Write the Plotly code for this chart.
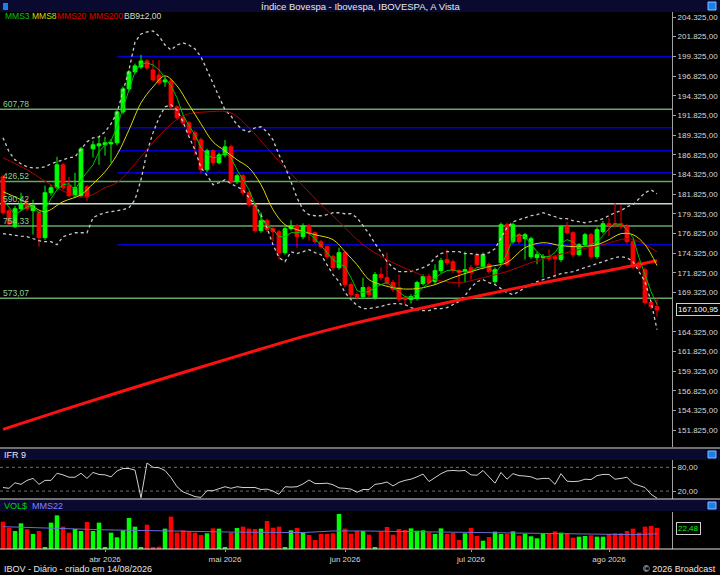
import plotly.graph_objects as go
import pandas as pd

# trading days shown (B3 holidays removed)
dates = pd.bdate_range("2026-03-09", "2026-08-13")
holidays = pd.to_datetime(["2026-04-03", "2026-04-21", "2026-05-01", "2026-06-04"])
dates = dates[~dates.isin(holidays)]
pos = list(range(len(dates)))

opens = [184020, 179700, 177680, 179960, 180600, 179710, 179450, 176280, 181990, 182630,
         185540, 182880, 181610, 181610, 182750, 187570, 187950, 188080, 188200, 188330,
         192270, 195190, 197350, 197980, 198740, 197600, 196960, 196080, 196200, 192900,
         191510, 190870, 189600, 188720, 184910, 187320, 185800, 186810, 187830, 183390,
         184150, 181990, 180470, 177170, 178440, 177420, 177040, 174380, 177420, 177800,
         176410, 177800, 176910, 175770, 175140, 173870, 172470, 174380, 170320, 169050,
         168790, 169940, 168670, 171590, 171200, 170570, 169940, 168670, 168410, 168540,
         170440, 171330, 170700, 172090, 173490, 173230, 172090, 171970, 172470, 174120,
         172600, 172850, 170700, 173110, 177930, 175770, 176660, 176150, 173870, 173740,
         173740, 173870, 173870, 173490, 177680, 176910, 174120, 175390, 176660, 173870,
         177040, 178060, 178060, 178060, 177680, 175770, 173110, 172220, 168030, 167520]
highs = [184300, 180000, 180300, 182000, 181200, 181100, 179700, 182900, 183000, 186560,
         185800, 184000, 184530, 187800, 183000, 188600, 189230, 189100, 188800, 192500,
         195500, 197600, 198400, 199500, 199000, 198870, 198870, 196700, 196500, 193100,
         191800, 191100, 189900, 189000, 187600, 187500, 187100, 188700, 188100, 184400,
         184400, 182200, 180700, 179500, 178700, 177700, 177300, 177700, 178500, 178000,
         178100, 178000, 177100, 176000, 175300, 174100, 175000, 174600, 170600, 169300,
         171200, 170200, 171900, 172500, 174380, 170900, 171600, 168900, 169100, 170800,
         171600, 171700, 172900, 173700, 174800, 173500, 172300, 174500, 172800, 174400,
         174400, 173100, 172500, 178200, 178200, 178200, 176900, 176900, 176400, 174500,
         174200, 174800, 174100, 177900, 178300, 177100, 175600, 176900, 176900, 177600,
         178400, 178800, 180700, 180400, 178000, 176000, 173400, 172500, 168300, 168660]
lows = [179200, 177800, 177500, 179700, 179700, 176660, 175140, 176000, 181600, 182400,
        182400, 181400, 181400, 181400, 180970, 186500, 185540, 186700, 185800, 188000,
        192000, 194900, 197100, 197700, 197600, 196100, 195700, 195450, 192600, 191200,
        190600, 189300, 186800, 184500, 184600, 185400, 185600, 186500, 183100, 183100,
        181700, 180200, 176900, 176900, 177000, 175800, 173500, 174100, 177200, 175000,
        176100, 175900, 175500, 174900, 173600, 172100, 172200, 170000, 168700, 168400,
        168500, 168700, 168400, 170900, 170300, 169400, 168100, 167800, 167900, 168300,
        170200, 170300, 170400, 171800, 172800, 171800, 170000, 170570, 171000, 172600,
        172300, 171700, 170400, 172800, 172600, 175500, 175500, 173500, 173600, 172900,
        171200, 173300, 171200, 173200, 176700, 173800, 173900, 175100, 173600, 173600,
        176800, 176500, 177600, 177400, 175500, 172300, 172100, 167800, 167200, 166260]
closes = [179450, 178050, 179960, 180600, 179960, 180340, 176280, 181990, 182630, 185540,
          182630, 181610, 182630, 187570, 181480, 188080, 188210, 188340, 188340, 192270,
          195190, 197350, 198110, 198740, 197850, 196330, 195950, 196330, 192900, 191510,
          190870, 189600, 188720, 184910, 187320, 185800, 186810, 187830, 183390, 184150,
          181990, 180470, 177170, 178440, 177300, 177040, 174380, 177420, 177800, 176410,
          177800, 176910, 175770, 175140, 173870, 172470, 174380, 170320, 169050, 168790,
          169940, 169050, 171590, 171200, 170570, 169680, 168410, 168410, 168790, 170570,
          171330, 170570, 172090, 173360, 173110, 172090, 171850, 172220, 171840, 172850,
          174120, 171970, 172220, 177930, 172850, 177930, 175770, 176660, 176150, 174120,
          173870, 173620, 173610, 177680, 176910, 174120, 175390, 176660, 173870, 177300,
          178060, 177800, 177800, 177680, 175770, 172600, 172470, 168030, 167520, 167100.95]

mms3 = [181100, 180090, 179200, 179710, 180210, 180210, 179450, 179830, 181230, 182370,
        183010, 183130, 182370, 183640, 184660, 185540, 187190, 188080, 188590, 190370,
        192780, 195060, 197350, 198360, 198490, 198230, 197600, 196590, 195570, 194050,
        191890, 190490, 189350, 187700, 186810, 186430, 186560, 187070, 186430, 184910,
        183640, 182370, 180470, 178820, 177800, 177300, 176410, 176410, 176910, 176910,
        177040, 176790, 176150, 175260, 174500, 173490, 172980, 172600, 171200, 169560,
        169300, 169430, 169940, 170320, 170570, 169940, 169430, 168790, 168670, 169170,
        169940, 170570, 171080, 171710, 172090, 172220, 171970, 171970, 171970, 172470,
        172600, 172470, 171710, 172730, 174250, 176280, 176660, 176410, 175390, 174500,
        173870, 173870, 174380, 175520, 176030, 175770, 175010, 175140, 175390, 175770,
        176530, 177420, 178060, 177930, 177300, 176280, 173740, 171590, 169430, 167780]

mms8_idx = [0, 3, 5, 7, 10, 13, 15, 17, 19, 21, 23, 25, 27, 29, 31, 33, 35, 37, 39, 41, 43, 45, 47,
            49, 52, 55, 57, 59, 61, 63, 66, 69, 72, 75, 78, 81, 84, 87, 90, 93, 96, 99, 101, 103,
            105, 107, 109]
mms8 = [182120, 181100, 180210, 179580, 180850, 181740, 183130, 184660, 186810, 189980,
        193410, 195440, 196840, 195570, 193160, 190750, 188460, 187320, 186180, 185160,
        183010, 179830, 177930, 177300, 176660, 176030, 174500, 172850, 170950, 170320,
        169810, 169810, 170320, 171200, 171970, 172600, 173110, 175010, 175640, 175270,
        175140, 175390, 176030, 176790, 176660, 175390, 172730]

mms20_idx = [0, 4, 8, 12, 14, 17, 19, 23, 26, 30, 34, 38, 41, 44, 47, 50, 53, 56, 60, 64, 68,
             72, 76, 80, 84, 88, 92, 96, 100, 104, 106, 109]
mms20 = [186430, 184910, 183010, 181610, 181480, 182630, 183260, 186560, 189220, 191760,
         192270, 192140, 190240, 187700, 185160, 182880, 180470, 178310, 175390, 173490,
         172090, 170950, 170570, 171200, 171970, 173110, 173990, 174760, 175390, 176150,
         175770, 174500]

mms200_idx = [0, 10, 20, 30, 40, 50, 57, 64, 72, 80, 90, 100, 109]
mms200 = [151915, 154400, 156800, 159150, 161450, 163700, 165100, 166350, 167700, 169000,
          170550, 171980, 173360]

bb_upper = [188970, 187190, 186180, 185670, 185290, 185160, 185160, 185290, 185670, 185920,
            186180, 186430, 186560, 187450, 188460, 188970, 189100, 189730, 190750, 192140,
            194800, 197600, 201150, 202170, 202420, 202550, 201910, 200770, 200140, 200770,
            201030, 200770, 200260, 199250, 197600, 195950, 194170, 192520, 191760, 190620,
            189980, 189730, 190240, 190370, 189730, 188720, 186810, 185290, 183390, 181360,
            179830, 179200, 179070, 179070, 179200, 179450, 179450, 179320, 179320, 178820,
            177800, 176790, 175520, 174500, 173230, 172470, 171970, 171970, 171970, 172220,
            172470, 172850, 173740, 174250, 174500, 174500, 174500, 174250, 174250, 174120,
            174120, 174380, 174880, 176280, 177550, 178310, 178570, 178820, 179070, 179200,
            179450, 179200, 178950, 178690, 178690, 178440, 178310, 178180, 178310, 178440,
            178690, 179070, 179450, 179710, 180210, 180470, 181230, 181990, 182370, 181860]
bb_lower = [176790, 176660, 176540, 176480, 176410, 176150, 175900, 175770, 175770, 175390,
            176410, 176660, 176910, 176910, 176910, 178820, 179200, 179450, 179580, 179710,
            179830, 180090, 181100, 183640, 187190, 189600, 191510, 192900, 193160, 192520,
            191000, 189100, 187450, 185160, 184200, 183010, 183260, 183640, 183130, 182750,
            182370, 181360, 180470, 179200, 177550, 175390, 173740, 173230, 174500, 174250,
            174500, 174760, 174380, 174120, 172850, 171590, 170700, 169300, 168410, 167650,
            167270, 167270, 167400, 167520, 167780, 167900, 167900, 167780, 167400, 167140,
            167020, 167020, 167270, 167270, 167400, 167780, 168160, 168920, 169940, 170700,
            170950, 170570, 170320, 169810, 169300, 169050, 169430, 169940, 170320, 170700,
            170950, 171200, 171460, 171710, 171840, 171970, 172220, 172470, 172730, 172980,
            173230, 173490, 173740, 173870, 173740, 173230, 171970, 170700, 168160, 164610]

ifr9 = [29, 27, 41, 37, 47, 52, 37, 47, 47, 65, 61, 55, 55, 65, 52, 67, 62, 61, 56, 71,
        77, 77, 73, 3, 91, 80, 79, 72, 54, 31, 18, 11, 6, 4, 21, 21, 27, 31, 27, 31,
        29, 29, 29, 24, 25, 20, 12, 31, 30, 31, 38, 48, 39, 39, 40, 36, 28, 27, 25, 17,
        24, 24, 37, 39, 43, 33, 42, 47, 50, 56, 63, 44, 54, 64, 71, 72, 71, 72, 61, 60,
        72, 56, 40, 67, 50, 64, 59, 58, 56, 50, 52, 52, 37, 64, 45, 44, 45, 50, 49, 59,
        62, 62, 50, 52, 55, 39, 33, 29, 12, 2]

# financial volume, R$ billions
volume = [29.2, 22.8, 19.3, 27.5, 21.1, 16.1, 19.3, 1.8, 28.2, 36.0,
          23.9, 17.5, 21.4, 19.3, 28.9, 19.3, 28.2, 1.8, 17.5, 12.5,
          20.0, 33.2, 23.9, 1.8, 26.0, 1.8, 2.5, 21.8, 34.6, 17.5,
          20.0, 18.9, 17.5, 15.0, 16.8, 22.1, 21.8, 1.1, 17.5, 22.5,
          23.9, 21.8, 21.4, 21.8, 30.0, 22.8, 23.9, 1.1, 20.0, 22.5,
          17.1, 15.0, 9.6, 16.1, 16.1, 16.8, 37.5, 21.8, 16.4, 19.3,
          19.3, 15.3, 1.1, 18.9, 23.6, 15.3, 21.4, 20.3, 22.1, 19.6,
          20.0, 17.8, 16.1, 22.1, 16.1, 17.1, 9.6, 16.8, 22.5, 13.9,
          8.9, 12.8, 18.6, 16.1, 16.1, 18.9, 14.3, 16.4, 13.6, 11.4,
          16.8, 16.8, 18.9, 17.5, 16.8, 12.1, 13.2, 13.9, 14.6, 13.2,
          13.2, 16.1, 16.8, 16.8, 19.3, 21.8, 17.5, 23.9, 24.6, 22.48]
mms22_idx = [0, 9, 17, 28, 39, 50, 55, 60, 70, 77, 85, 93, 100, 105, 109]
mms22 = [23.9, 22.0, 20.5, 19.3, 18.0, 17.6, 19.3, 19.3, 18.3, 17.8, 17.0, 16.4, 15.2, 15.4, 16.2]

# fibonacci retracement (green) and manual levels (blue)
fib_levels = [192607.78, 183426.52, 180590.42, 177754.33, 168573.07]
blue_levels = [199300, 190240, 187320, 184530, 175390]
blue_start = 19

month_names = {4: "abr", 5: "mai", 6: "jun", 7: "jul", 8: "ago"}

W, H = 720, 575
XR = 672 / W


def py(p):
    # pixel row -> paper fraction
    return 1 - p / H


def br(v, nd=2):
    s = f"{v:,.{nd}f}"
    return s.replace(",", "X").replace(".", ",").replace("X", ".")


GREEN = "#00ff00"
RED = "#ff0000"
FONT = "Liberation Sans"

fig = go.Figure()

fig.add_trace(go.Candlestick(
    x=pos, open=opens, high=highs, low=lows, close=closes,
    increasing=dict(line=dict(color=GREEN, width=1), fillcolor=GREEN),
    decreasing=dict(line=dict(color=RED, width=1), fillcolor=RED),
    whiskerwidth=0, xaxis="x", yaxis="y"))

fig.add_trace(go.Scatter(x=pos, y=bb_upper, mode="lines",
                         line=dict(color="#c8c8c8", width=1.3, dash="dot")))
fig.add_trace(go.Scatter(x=pos, y=bb_lower, mode="lines",
                         line=dict(color="#c8c8c8", width=1.3, dash="dot")))
fig.add_trace(go.Scatter(x=mms200_idx, y=mms200, mode="lines",
                         line=dict(color="#ff1010", width=3, shape="spline")))
fig.add_trace(go.Scatter(x=mms20_idx, y=mms20, mode="lines",
                         line=dict(color="#b00000", width=1, shape="spline")))
fig.add_trace(go.Scatter(x=mms8_idx, y=mms8, mode="lines",
                         line=dict(color="#d8d800", width=1, shape="spline")))
fig.add_trace(go.Scatter(x=pos, y=mms3, mode="lines", line=dict(color="#00c000", width=1)))

# IFR 9
fig.add_trace(go.Scatter(x=pos, y=ifr9, mode="lines", line=dict(color="#d0d0d0", width=1),
                         xaxis="x2", yaxis="y2"))

# volume
vol_colors = [GREEN if c >= o else RED for o, c in zip(opens, closes)]
fig.add_trace(go.Bar(x=pos, y=volume, marker=dict(color=vol_colors, line=dict(width=0)),
                     xaxis="x3", yaxis="y3"))
fig.add_trace(go.Scatter(x=mms22_idx, y=mms22, mode="lines", line=dict(color="#6c6cd8", width=1),
                         xaxis="x3", yaxis="y3"))

shapes = []
for lv in blue_levels:
    shapes.append(dict(type="line", xref="x", yref="y", x0=blue_start, x1=111.5, y0=lv, y1=lv,
                       line=dict(color="#0000d0", width=1.5), layer="below"))
for k, lv in enumerate(fib_levels):
    col = "#c8dcc8" if k == 2 else "#66a866"
    shapes.append(dict(type="line", xref="x", yref="y", x0=-0.5, x1=111.5, y0=lv, y1=lv,
                       line=dict(color=col, width=1.5), layer="below"))
for lv in (20, 80):
    shapes.append(dict(type="line", xref="x2", yref="y2", x0=-0.5, x1=111.5, y0=lv, y1=lv,
                       line=dict(color="#707070", width=1, dash="dot"), layer="below"))

# header bars
for top, bot in ((0, 12), (449, 460), (500, 511)):
    shapes.append(dict(type="rect", xref="paper", yref="paper", x0=0, x1=1, y0=py(bot), y1=py(top),
                       fillcolor="#0a0a30", line=dict(width=0), layer="below"))
    shapes.append(dict(type="rect", xref="paper", yref="paper", x0=708 / W, x1=716 / W,
                       y0=py(bot - 2), y1=py(top + 2), fillcolor="#1a80e8",
                       line=dict(color="#80c0ff", width=1)))
shapes.append(dict(type="rect", xref="paper", yref="paper", x0=3 / W, x1=8 / W, y0=py(10), y1=py(3),
                   fillcolor="#1a80e8", line=dict(width=0)))
for yy in (448, 499, 549):
    shapes.append(dict(type="line", xref="paper", yref="paper", x0=0, x1=1, y0=py(yy), y1=py(yy),
                       line=dict(color="#e0e0e0", width=1)))

ann = []


def text(x, y, s, color, size=9, xanchor="left"):
    ann.append(dict(x=x / W, y=py(y), xref="paper", yref="paper",
                    text=s, showarrow=False, xanchor=xanchor, yanchor="middle",
                    font=dict(family=FONT, size=size, color=color)))


text(360, 6, "Índice Bovespa - Ibovespa, IBOVESPA, A Vista", "#e8e8e8", 9.5, "center")
for label, col, lx in (("MMS3", "#00c800", 3), ("MMS8", "#d8d800", 30), ("MMS20", "#e00000", 55),
                       ("MMS200", "#e00000", 87), ("BB9±2,00", "#d8d8d8", 122)):
    text(lx, 16, label, col, 8.5)
text(2, 454.5, "IFR 9", "#e8e8e8", 9)
text(2, 506, "VOL$", "#00d000", 9)
text(30, 506, "MMS22", "#8080ff", 9)
text(2, 569, "IBOV - Diário - criado em 14/08/2026", "#e8e8e8", 9)
text(718, 569, "© 2026 Broadcast", "#e8e8e8", 9, "right")

for lv in fib_levels:
    ann.append(dict(x=1 / W, y=lv, xref="paper", yref="y", text=br(lv)[-6:], showarrow=False,
                    xanchor="left", yanchor="bottom", yshift=-2,
                    font=dict(family=FONT, size=8.5, color="#8fcf8f")))

# last-value boxes on the right axis (they cover the tick label behind them)
ann.append(dict(x=676 / W, y=closes[-1], xref="paper", yref="y", text=br(closes[-1]),
                showarrow=False, xanchor="left", yanchor="middle", bgcolor="#000000",
                bordercolor="#d0d0d0", borderwidth=1, borderpad=1,
                font=dict(family=FONT, size=8, color="#ffffff")))
ann.append(dict(x=676 / W, y=volume[-1], xref="paper", yref="y3", text=br(volume[-1]),
                showarrow=False, xanchor="left", yanchor="middle", bgcolor="#000000",
                bordercolor="#d0d0d0", borderwidth=1, borderpad=1,
                font=dict(family=FONT, size=8, color="#00ff00")))

tickvals = [i for i in range(1, len(dates)) if dates[i].month != dates[i - 1].month]
ticktext = [f"{month_names[dates[i].month]} {dates[i].year}" for i in tickvals]

# price ticks every 2.500, skipping the one hidden behind the last-price box
price_ticks = [151825 + 2500 * k for k in range(22)]
price_ticks = [t for t in price_ticks if abs(t - closes[-1]) > 1200]

axis_font = dict(family=FONT, size=8, color="#d8d8d8")
xcommon = dict(range=[-0.5, 111.5], domain=[0, XR], showgrid=False, zeroline=False,
               showline=False, rangeslider=dict(visible=False))
ycommon = dict(side="right", showgrid=False, zeroline=False, showline=True, linecolor="#a0a0a0",
               ticks="outside", ticklen=3, tickcolor="#a0a0a0", tickfont=axis_font)

fig.update_layout(
    width=W, height=H, margin=dict(l=0, r=0, t=0, b=0),
    paper_bgcolor="#000000", plot_bgcolor="#000000",
    separators=",.", showlegend=False, hovermode=False, bargap=0.25, boxgap=0.1,
    xaxis=dict(xcommon, anchor="y", showticklabels=False),
    xaxis2=dict(xcommon, anchor="y2", matches="x", showticklabels=False),
    xaxis3=dict(xcommon, anchor="y3", matches="x", tickvals=tickvals, ticktext=ticktext,
                ticks="outside", ticklen=2, tickcolor="#a0a0a0", tickfont=axis_font),
    yaxis=dict(ycommon, domain=[py(447), py(12)], range=[149680, 204960],
               tickvals=price_ticks, tickformat=",.2f"),
    yaxis2=dict(ycommon, domain=[py(499), py(460)], range=[0, 98.5],
                tickvals=[20, 80], tickformat=".2f"),
    yaxis3=dict(ycommon, domain=[py(549), py(512)], range=[0, 39.6], showticklabels=False,
                ticks=""),
    shapes=shapes, annotations=ann,
)

# drop the default page margin so the 720x575 figure fills the window
fig.write_html("out.html", config={"displayModeBar": False},
               post_script="document.body.style.margin='0';")
